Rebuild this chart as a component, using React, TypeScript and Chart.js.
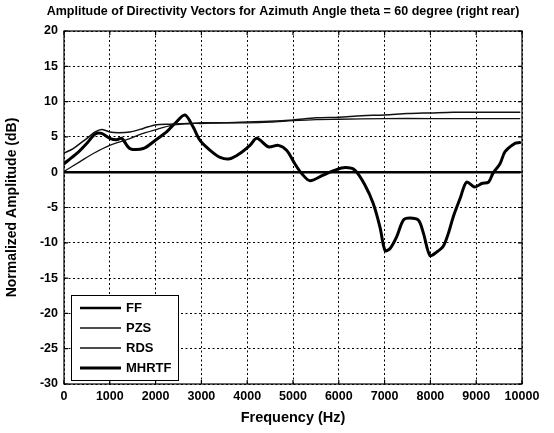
import { useEffect, useRef } from "react";
import { Chart, registerables } from "chart.js";

Chart.register(...registerables);

// Axis ticks
const freqTicks = [0, 1000, 2000, 3000, 4000, 5000, 6000, 7000, 8000, 9000, 10000];
const dbTicks = [-30, -25, -20, -15, -10, -5, 0, 5, 10, 15, 20];

// Free-field reference
const ffFreq = [0, 9950];
const ffDb = [0, 0];

// PZS
const pzsFreq = [0, 200, 500, 680, 820, 1000, 1190, 1440, 1730, 1990, 2310, 2750, 3000, 3500, 4000, 4500, 5000, 5500, 6000, 6500, 7000, 7500, 8000, 8500, 9000, 9500, 9950];
const pzsDb = [2.7, 3.35, 4.8, 5.7, 6.05, 5.7, 5.6, 5.7, 6.2, 6.7, 6.8, 6.9, 7.0, 7.0, 7.1, 7.2, 7.4, 7.7, 7.8, 8.0, 8.1, 8.3, 8.4, 8.5, 8.5, 8.5, 8.5];

// RDS
const rdsFreq = [0, 350, 640, 1000, 1370, 1730, 2100, 2390, 2750, 3000, 3500, 4000, 4500, 5000, 5500, 6000, 7000, 8000, 9000, 9950];
const rdsDb = [0.1, 1.5, 2.65, 3.8, 4.6, 5.5, 6.2, 6.7, 6.9, 6.9, 7.0, 7.0, 7.1, 7.3, 7.45, 7.5, 7.6, 7.6, 7.6, 7.6];

// MHRTF
const mhrtfFreq = [0, 280, 500, 680, 820, 1000, 1150, 1260, 1440, 1730, 1990, 2240, 2420, 2640, 2820, 2970, 3190, 3410, 3620, 3840, 4060, 4210, 4460, 4680, 4860, 5040, 5190, 5370, 5660, 5920, 6140, 6350, 6570, 6750, 6900, 7010, 7120, 7260, 7410, 7550, 7740, 7850, 7990, 8140, 8280, 8390, 8500, 8650, 8790, 8970, 9120, 9270, 9370, 9520, 9630, 9850, 9950];
const mhrtfDb = [1.2, 2.65, 4.1, 5.4, 5.5, 4.8, 4.6, 4.8, 3.35, 3.35, 4.5, 5.7, 6.9, 8.1, 6.4, 4.5, 3.1, 2.1, 1.9, 2.65, 3.8, 4.8, 3.6, 3.8, 3.1, 1.2, -0.2, -1.2, -0.4, 0.3, 0.65, 0.3, -1.8, -4.4, -7.8, -11.1, -10.8, -9.2, -6.8, -6.5, -6.8, -8.7, -11.8, -11.3, -10.5, -8.7, -6.3, -3.7, -1.4, -2.1, -1.6, -1.4, -0.1, 1.2, 2.9, 4.1, 4.2];

const TITLE = "Amplitude of Directivity Vectors for Azimuth Angle theta = 60 degree (right rear)";
const FONT = "'Liberation Sans', Arial, sans-serif";

const toPoints = (xs: number[], ys: number[]) => xs.map((x, i) => ({ x, y: ys[i] }));

// Box frame, inward tick marks, in-plot legend and title
const decorPlugin = {
  id: "decor",
  afterDraw(chart: any) {
    const { ctx, chartArea } = chart;
    const { left, right, top, bottom } = chartArea;
    const xs = chart.scales.x;
    const ys = chart.scales.y;
    ctx.save();
    ctx.strokeStyle = "#000";
    ctx.lineWidth = 1.2;
    ctx.strokeRect(left, top, right - left, bottom - top);

    const tl = 4;
    ctx.beginPath();
    freqTicks.forEach((v) => {
      const px = xs.getPixelForValue(v);
      ctx.moveTo(px, bottom);
      ctx.lineTo(px, bottom - tl);
      ctx.moveTo(px, top);
      ctx.lineTo(px, top + tl);
    });
    dbTicks.forEach((v) => {
      const py = ys.getPixelForValue(v);
      ctx.moveTo(left, py);
      ctx.lineTo(left + tl, py);
      ctx.moveTo(right, py);
      ctx.lineTo(right - tl, py);
    });
    ctx.stroke();

    // legend
    const lx = left + 7;
    const ly = bottom - 89;
    const lw = 107;
    const lh = 85;
    ctx.fillStyle = "#fff";
    ctx.fillRect(lx, ly, lw, lh);
    ctx.lineWidth = 1;
    ctx.strokeRect(lx + 0.5, ly + 0.5, lw, lh);
    ctx.font = `bold 13px ${FONT}`;
    ctx.textBaseline = "middle";
    ctx.textAlign = "left";
    chart.data.datasets.forEach((ds: any, i: number) => {
      const yy = ly + 13 + i * 20;
      ctx.strokeStyle = ds.borderColor;
      ctx.lineWidth = ds.borderWidth;
      ctx.beginPath();
      ctx.moveTo(lx + 9, yy);
      ctx.lineTo(lx + 50, yy);
      ctx.stroke();
      ctx.fillStyle = "#000";
      ctx.fillText(ds.label, lx + 55, yy + 0.5);
    });

    // title
    ctx.font = `bold 12.5px ${FONT}`;
    ctx.textAlign = "center";
    ctx.fillStyle = "#000";
    ctx.fillText(TITLE, 283, 11.5);
    ctx.restore();
  },
};

export default function App() {
  const ref = useRef<HTMLCanvasElement | null>(null);

  useEffect(() => {
    if (!ref.current) return;
    const chart = new Chart(ref.current, {
      type: "line",
      data: {
        datasets: [
          { label: "FF", data: toPoints(ffFreq, ffDb), borderColor: "#000", borderWidth: 2.5 },
          { label: "PZS", data: toPoints(pzsFreq, pzsDb), borderColor: "#111", borderWidth: 1.5 },
          { label: "RDS", data: toPoints(rdsFreq, rdsDb), borderColor: "#111", borderWidth: 1.3 },
          { label: "MHRTF", data: toPoints(mhrtfFreq, mhrtfDb), borderColor: "#000", borderWidth: 3 },
        ],
      },
      options: {
        responsive: false,
        animation: false,
        elements: {
          point: { radius: 0 },
          line: { tension: 0.3, fill: false, borderCapStyle: "round", borderJoinStyle: "round" },
        },
        layout: { padding: { top: 31, right: 32, left: 0, bottom: 0 } },
        plugins: {
          legend: { display: false },
          title: { display: false },
          tooltip: { enabled: false },
        },
        scales: {
          x: {
            type: "linear",
            min: 0,
            max: 10000,
            afterFit: (s: any) => {
              s.height = 49;
            },
            afterBuildTicks: (s: any) => {
              s.ticks = freqTicks.map((v) => ({ value: v }));
            },
            ticks: {
              color: "#000",
              padding: 5,
              maxRotation: 0,
              autoSkip: false,
              font: { family: FONT, size: 12.5, weight: "bold" },
              callback: (v: any) => String(v),
            },
            grid: { color: "#000", lineWidth: 1, drawTicks: false },
            border: { display: false, dash: [2, 2.5] },
            title: {
              display: true,
              text: "Frequency (Hz)",
              color: "#000",
              font: { family: FONT, size: 14.5, weight: "bold" },
              padding: { top: 0, bottom: 6 },
            },
          },
          y: {
            type: "linear",
            min: -30,
            max: 20,
            afterFit: (s: any) => {
              s.width = 64;
            },
            afterBuildTicks: (s: any) => {
              s.ticks = dbTicks.map((v) => ({ value: v }));
            },
            ticks: {
              color: "#000",
              padding: 6,
              autoSkip: false,
              font: { family: FONT, size: 12.5, weight: "bold" },
              callback: (v: any) => String(v),
            },
            grid: { color: "#000", lineWidth: 1, drawTicks: false },
            border: { display: false, dash: [2, 2.5] },
            title: {
              display: true,
              text: "Normalized Amplitude (dB)",
              color: "#000",
              font: { family: FONT, size: 14, weight: "bold" },
              padding: { top: 4, bottom: 0 },
            },
          },
        },
      },
      plugins: [decorPlugin],
    } as any);
    return () => chart.destroy();
  }, []);

  return (
    <div style={{ position: "absolute", left: 0, top: 0, width: 554, height: 433, background: "#fff" }}>
      <canvas ref={ref} width={554} height={433} />
    </div>
  );
}
